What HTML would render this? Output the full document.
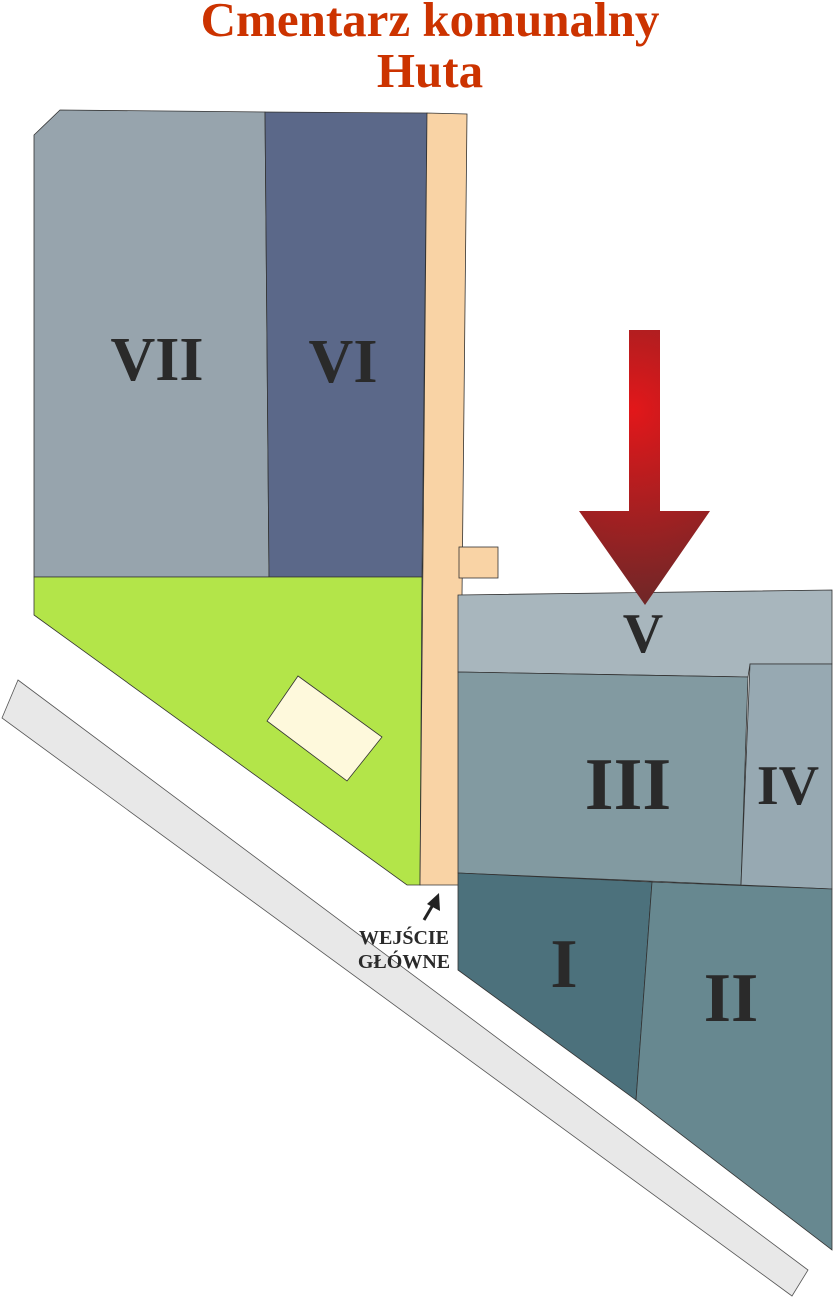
<!DOCTYPE html>
<html><head><meta charset="utf-8"><style>
html,body{margin:0;padding:0;background:#fff;width:833px;height:1297px;overflow:hidden}
svg{display:block}
</style></head><body>
<svg width="833" height="1297" viewBox="0 0 833 1297" xmlns="http://www.w3.org/2000/svg">
<defs>
<radialGradient id="ag" cx="633" cy="410" r="230" gradientUnits="userSpaceOnUse">
<stop offset="0" stop-color="#e2171a"/><stop offset="1" stop-color="#5a2a2a"/>
</radialGradient>
</defs>
<g font-family="Liberation Serif, serif" font-weight="bold" fill="#cc3300" text-anchor="middle" font-size="49">
<text x="430" y="36">Cmentarz komunalny</text>
<text x="430" y="87">Huta</text>
</g>
<g stroke="#333" stroke-width="0.8">
<polygon points="18,680 808,1270 792,1296 2,718" fill="#e8e8e8" stroke="#555"/>
<polygon points="60,110 265,112 269,577 34,577 34,135" fill="#97a4ad"/>
<polygon points="265,112 427,113 422,577 269,577" fill="#5b6889"/>
<polygon points="34,577 422,577 420,885 407,885 34,615" fill="#b3e549"/>
<polygon points="427,113 467,114 459,885 420,885" fill="#f9d3a5"/>
<rect x="459" y="547" width="39" height="31" fill="#f9d3a5"/>
<polygon points="298,676 382,737 347,781 267,721" fill="#fef9dc"/>
<polygon points="458,595 832,590 832,664 750,664 748,677 458,672" fill="#a8b6bd"/>
<polygon points="458,672 748,677 741,885 458,873" fill="#829aa1"/>
<polygon points="750,664 832,664 832,889 741,885" fill="#97a9b2"/>
<polygon points="458,873 652,882 636,1100 458,970" fill="#4c717c"/>
<polygon points="652,882 832,889 832,1250 636,1100" fill="#678890"/>
</g>
<polygon points="629,330 660,330 660,511 710,511 645,605 579,511 629,511" fill="url(#ag)"/>
<g font-family="Liberation Serif, serif" font-weight="bold" fill="#2a2a2a" text-anchor="middle">
<text x="157" y="380" font-size="62">VII</text>
<text x="343" y="382" font-size="62">VI</text>
<text x="643" y="652" font-size="56">V</text>
<text x="628" y="809" font-size="74">III</text>
<text x="788" y="804" font-size="56">IV</text>
<text x="564" y="987" font-size="70">I</text>
<text x="731" y="1021" font-size="70">II</text>
<text x="404" y="944" font-size="20">WEJŚCIE</text>
<text x="404" y="968" font-size="20">GŁÓWNE</text>
</g>
<line x1="424" y1="920" x2="434" y2="903" stroke="#222" stroke-width="3"/>
<polygon points="439,893 440,911 427,904" fill="#222"/>
</svg>
</body></html>
